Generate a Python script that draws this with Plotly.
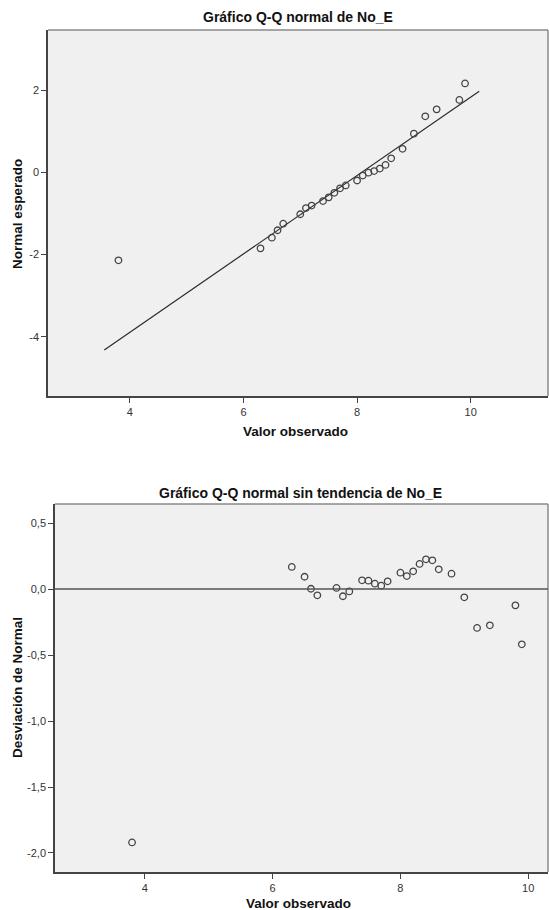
import plotly.graph_objects as go

# ---------------- data ----------------
observed = [3.8, 6.3, 6.5, 6.6, 6.7, 7.0, 7.1, 7.2, 7.4, 7.5, 7.6, 7.7, 7.8,
            8.0, 8.1, 8.2, 8.3, 8.4, 8.5, 8.6, 8.8, 9.0, 9.2, 9.4, 9.8, 9.9]
expected_normal = [-2.14, -1.85, -1.59, -1.41, -1.25, -1.02, -0.87, -0.81, -0.70,
                   -0.61, -0.50, -0.39, -0.32, -0.20, -0.08, -0.01, 0.03, 0.09,
                   0.18, 0.34, 0.57, 0.94, 1.36, 1.53, 1.76, 2.16]
deviation = [-1.92, 0.167, 0.093, 0.002, -0.048, 0.008, -0.055, -0.018, 0.066,
             0.063, 0.040, 0.025, 0.058, 0.124, 0.098, 0.134, 0.19, 0.225,
             0.217, 0.149, 0.116, -0.063, -0.295, -0.275, -0.124, -0.419]
ref_line_x = [3.55, 10.15]
ref_line_y = [-4.32, 1.97]

top_xticks = [4, 6, 8, 10]
top_yticks = [2, 0, -2, -4]
top_yticklabels = ["2", "0", "-2", "-4"]
bot_xticks = [4, 6, 8, 10]
bot_yticks = [0.5, 0.0, -0.5, -1.0, -1.5, -2.0]
bot_yticklabels = ["0,5", "0,0", "-0,5", "-1,0", "-1,5", "-2,0"]

title_top = "Gráfico Q-Q normal de No_E"
title_bot = "Gráfico Q-Q normal sin tendencia de No_E"
xlabel = "Valor observado"
ylabel_top = "Normal esperado"
ylabel_bot = "Desviación de Normal"

# ---------------- figure ----------------
W, H = 549, 910
FONT = "Liberation Sans, Arial, sans-serif"

def px_x(p):
    return p / W

def px_y(p):
    return 1 - p / H

fig = go.Figure()

marker = dict(symbol="circle-open", size=6.5, color="#444", line=dict(width=1.3, color="#444"))

fig.add_trace(go.Scatter(x=ref_line_x, y=ref_line_y, mode="lines",
                         line=dict(color="#2a2a2a", width=1.2),
                         xaxis="x", yaxis="y", hoverinfo="skip"))
fig.add_trace(go.Scatter(x=observed, y=expected_normal, mode="markers",
                         marker=marker, xaxis="x", yaxis="y"))
fig.add_trace(go.Scatter(x=observed, y=deviation, mode="markers",
                         marker=marker, xaxis="x2", yaxis="y2"))

axis_common = dict(showgrid=False, zeroline=False, showline=True, linecolor="#444",
                   linewidth=1.5, ticks="outside", ticklen=5, tickwidth=1.3,
                   tickcolor="#444", tickfont=dict(family=FONT, size=11, color="#333"),
                   mirror=False)

fig.update_layout(
    width=W, height=H,
    margin=dict(l=0, r=0, t=0, b=0),
    paper_bgcolor="white",
    plot_bgcolor="#f0f0f0",
    showlegend=False,
    xaxis=dict(domain=[px_x(48), px_x(548)], range=[2.56, 11.36], anchor="y",
               tickvals=top_xticks, **axis_common),
    yaxis=dict(domain=[px_y(396), px_y(30)], range=[-5.44, 3.46], anchor="x",
               tickvals=top_yticks, ticktext=top_yticklabels, **axis_common),
    xaxis2=dict(domain=[px_x(55), px_x(548)], range=[2.594, 10.31], anchor="y2",
                tickvals=bot_xticks, **axis_common),
    yaxis2=dict(domain=[px_y(872), px_y(504)], range=[-2.144, 0.644], anchor="x2",
                tickvals=bot_yticks, ticktext=bot_yticklabels, **axis_common),
)

# borders (top / right)
for xr, yr in (("x domain", "y domain"), ("x2 domain", "y2 domain")):
    fig.add_shape(type="line", xref=xr, yref=yr, x0=0, x1=1, y0=1, y1=1,
                  line=dict(color="#8a8a8a", width=1.5))
    fig.add_shape(type="line", xref=xr, yref=yr, x0=1, x1=1, y0=0, y1=1,
                  line=dict(color="#8a8a8a", width=1.5))

# zero reference line in detrended plot
fig.add_shape(type="line", xref="x2 domain", yref="y2", x0=0, x1=1, y0=0, y1=0,
              line=dict(color="#555", width=1.5))

title_font = dict(family=FONT, size=14, color="#111")
label_font = dict(family=FONT, size=13.5, color="#111")

annos = [
    dict(text=f"<b>{title_top}</b>", x=px_x(298), y=px_y(17), font=title_font),
    dict(text=f"<b>{title_bot}</b>", x=px_x(300), y=px_y(493), font=title_font),
    dict(text=f"<b>{xlabel}</b>", x=px_x(295), y=px_y(431), font=label_font),
    dict(text=f"<b>{xlabel}</b>", x=px_x(298), y=px_y(903), font=label_font),
    dict(text=f"<b>{ylabel_top}</b>", x=px_x(17), y=px_y(214), textangle=-90, font=label_font),
    dict(text=f"<b>{ylabel_bot}</b>", x=px_x(17), y=px_y(688), textangle=-90, font=label_font),
]
for a in annos:
    fig.add_annotation(xref="paper", yref="paper", showarrow=False,
                       xanchor="center", yanchor="middle", **a)

fig.write_html("out.html")
